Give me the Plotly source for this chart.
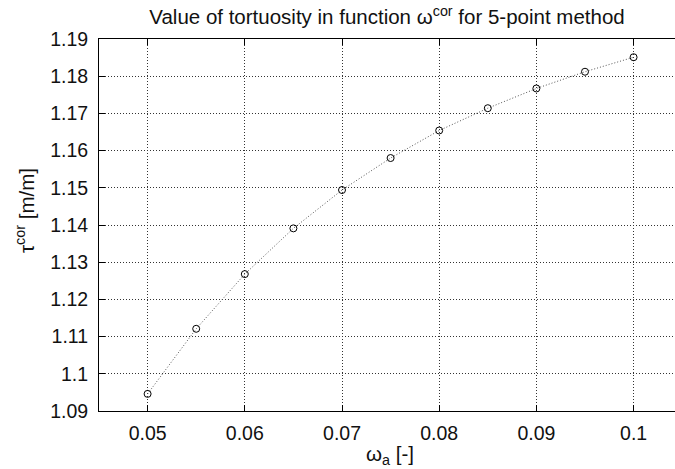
import plotly.graph_objects as go

omega_a = [0.05, 0.055, 0.06, 0.065, 0.07, 0.075, 0.08, 0.085, 0.09, 0.095, 0.1]
tau_cor = [1.0946, 1.1121, 1.1268, 1.1391, 1.1494, 1.1580, 1.1654, 1.1714, 1.1767, 1.1812, 1.1851]

x_ticks = [0.05, 0.06, 0.07, 0.08, 0.09, 0.1]
x_ticklabels = ["0.05", "0.06", "0.07", "0.08", "0.09", "0.1"]
y_ticks = [1.09, 1.10, 1.11, 1.12, 1.13, 1.14, 1.15, 1.16, 1.17, 1.18, 1.19]
y_ticklabels = ["1.09", "1.1", "1.11", "1.12", "1.13", "1.14", "1.15", "1.16", "1.17", "1.18", "1.19"]

FONT = "Liberation Sans, Arial, sans-serif"
FS = 19.5
TFS = 20.5

fig = go.Figure()
fig.add_trace(go.Scatter(
    x=omega_a, y=tau_cor, mode="lines+markers",
    line=dict(color="#555555", width=1, dash="1px,2px"),
    marker=dict(symbol="circle-open", size=7, color="black", line=dict(width=1, color="black")),
    showlegend=False,
))

fig.update_layout(
    width=675, height=469,
    margin=dict(l=99, r=0, t=39, b=58),
    paper_bgcolor="white", plot_bgcolor="white",
    font=dict(family=FONT, size=FS, color="#111111"),
    xaxis=dict(
        range=[0.045, 0.10426], tickvals=x_ticks, ticktext=x_ticklabels,
        showline=True, linecolor="black", linewidth=1, mirror="allticks",
        ticks="inside", ticklen=6, tickcolor="black", tickwidth=1,
        showgrid=True, gridcolor="#333333", gridwidth=1, griddash="1px,2px",
        zeroline=False, ticklabelstandoff=5,
        tickfont=dict(family=FONT, size=FS, color="#111111"),
    ),
    yaxis=dict(
        range=[1.09, 1.19], tickvals=y_ticks, ticktext=y_ticklabels,
        showline=True, linecolor="black", linewidth=1, mirror=False,
        ticks="inside", ticklen=6, tickcolor="black", tickwidth=1,
        showgrid=True, gridcolor="#333333", gridwidth=1, griddash="1px,2px",
        zeroline=False, ticklabelstandoff=6,
        tickfont=dict(family=FONT, size=FS, color="#111111"),
    ),
    title=dict(
        text="Value of tortuosity in function ω<sup>cor</sup> for 5-point method",
        x=387/675, xanchor="center", xref="container",
        y=1 - 17/469, yanchor="middle", yref="container",
        font=dict(family=FONT, size=TFS, color="#111111"),
    ),
    annotations=[
        dict(text="ω<sub>a</sub> [-]", xref="paper", yref="paper",
             x=(390 - 99) / 576, y=0, yshift=-44, xanchor="center", yanchor="middle",
             showarrow=False, font=dict(family=FONT, size=TFS, color="#111111")),
        dict(text="τ<sup>cor</sup> [m/m]", xref="paper", yref="paper",
             x=0, xshift=-74, y=0.5, yshift=14, xanchor="center", yanchor="middle",
             textangle=-90, showarrow=False, font=dict(family=FONT, size=TFS, color="#111111")),
    ],
)

fig.write_html("out.html")
